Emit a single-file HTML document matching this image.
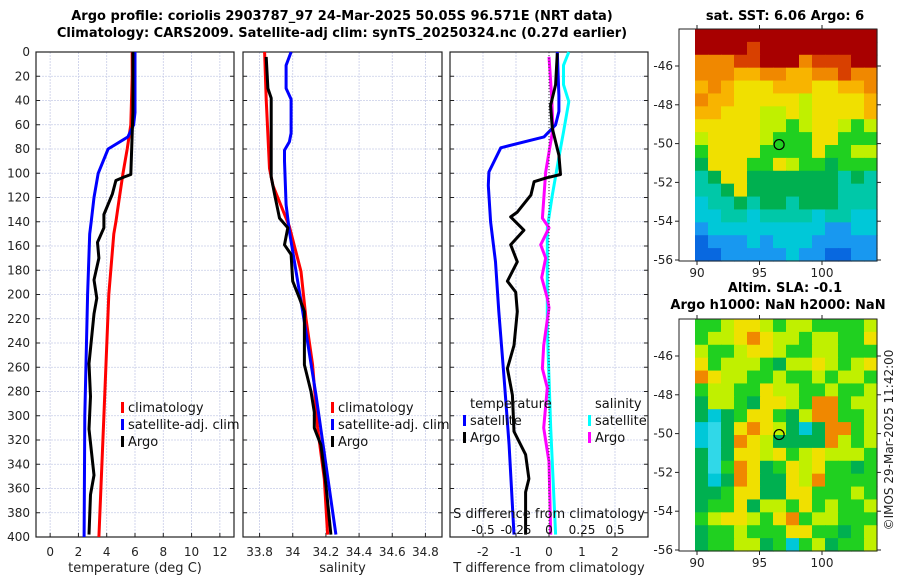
<!DOCTYPE html>
<html><head><meta charset="utf-8"><style>
html,body{margin:0;padding:0;background:#fff;}
svg{display:block;font-family:"DejaVu Sans","Liberation Sans",sans-serif;}
</style></head><body>
<svg id="fig" width="900" height="580" viewBox="0 0 900 580" xmlns="http://www.w3.org/2000/svg">
<text x="342" y="20" font-size="13" font-weight="bold" text-anchor="middle">Argo profile: coriolis 2903787_97 24-Mar-2025 50.05S 96.571E (NRT data)</text>
<text x="342" y="37" font-size="13" font-weight="bold" text-anchor="middle">Climatology: CARS2009. Satellite-adj clim: synTS_20250324.nc (0.27d earlier)</text>
<text x="785" y="20" font-size="13" font-weight="bold" text-anchor="middle">sat. SST: 6.06 Argo: 6</text>
<text x="785" y="292" font-size="13" font-weight="bold" text-anchor="middle">Altim. SLA: -0.1</text>
<text x="778" y="309" font-size="13" font-weight="bold" text-anchor="middle">Argo h1000: NaN h2000: NaN</text>
<text transform="translate(893,440) rotate(-90)" font-size="12" text-anchor="middle" fill="#222">©IMOS 29-Mar-2025 11:42:00</text>
</svg>
<script>
// ---- data ----
const depthTicks = [0,20,40,60,80,100,120,140,160,180,200,220,240,260,280,300,320,340,360,380,400];
const tempTicks = [0,2,4,6,8,10,12];
const salTicks = [33.8,34,34.2,34.4,34.6,34.8];
const salTickLabels = ["33.8","34","34.2","34.4","34.6","34.8"];
const tdiffTicks = [-2,-1,0,1,2];
const sdiffTicks = [-0.5,-0.25,0,0.25,0.5];
const sdiffTickLabels = ["-0.5","-0.25","0","0.25","0.5"];

const tClimDepth = [0,20,60,80,100,120,140,150,200,300,400];
const tClimVal   = [5.8,5.8,5.7,5.45,5.15,4.9,4.65,4.5,4.15,3.8,3.45];
const tSatDepth = [0,50,60,70,80,100,120,140,150,200,300,400];
const tSatVal   = [6.0,6.0,5.9,5.5,4.1,3.4,3.1,2.9,2.8,2.65,2.45,2.4];
const tArgoDepth = [0,50,101,103,106,117,134,145,157,170,188,203,216,257,284,311,349,365,398];
const tArgoVal   = [5.85,5.85,5.7,5.25,4.65,4.4,3.8,3.8,3.35,3.45,3.1,3.3,3.1,2.75,2.85,2.75,3.1,2.85,2.75];

const sClimDepth = [0,39,96,110,144,181,220,258,310,352,398];
const sClimVal   = [33.83,33.84,33.86,33.88,33.98,34.05,34.08,34.12,34.15,34.19,34.21];
const sSatDepth = [0,11,30,39,67,74,81,90,126,148,214,283,398];
const sSatVal   = [33.99,33.96,33.96,33.99,33.99,33.98,33.95,33.95,33.96,33.98,34.06,34.14,34.26];
const sArgoDepth = [4,30,38,63,96,103,117,137,145,159,167,189,203,214,258,280,297,310,324,357,398];
const sArgoVal   = [33.84,33.85,33.87,33.87,33.87,33.87,33.89,33.92,33.97,33.95,33.99,34.0,34.04,34.07,34.07,34.11,34.13,34.13,34.17,34.2,34.23];

const dTSatDepth = [0,36,49,60,70,79,99,110,140,173,214,269,324,398];
const dTSatVal   = [0.25,0.3,0.3,0.2,-0.15,-1.46,-1.82,-1.84,-1.77,-1.62,-1.52,-1.36,-1.21,-1.06];
const dTArgoDepth = [1,27,44,63,85,101,104,107,118,132,136,147,159,173,189,198,214,242,261,283,313,332,352,363,398];
const dTArgoVal   = [0.25,0.2,0.05,0.1,0.3,0.35,-0.1,-0.45,-0.55,-0.96,-1.16,-0.76,-1.16,-0.96,-1.26,-1.01,-0.96,-1.06,-1.26,-1.11,-1.06,-0.71,-0.61,-0.71,-0.71];
const dSSatDepth = [0,11,27,41,66,79,118,145,186,228,269,310,398];
const dSSatVal   = [0.15,0.11,0.11,0.15,0.11,0.088,0.025,-0.013,-0.013,-0.013,0,0.013,0.05];
const dSArgoDepth = [4,36,63,99,137,145,159,170,186,203,211,242,261,277,310,338,398];
const dSArgoVal   = [0,0.02,0.03,-0.025,-0.05,0,-0.063,-0.025,-0.055,-0.013,0,-0.04,-0.05,-0.013,-0.04,0,0.013];

const lonTicks = [90,95,100];
const latTicks = [-46,-48,-50,-52,-54,-56];
const argoLon = 96.57, argoLat = -50.05;
const sstRows = [
"RRRRRRRRRRRRRR","RRRRrRRRRRRRRR","ooorrRRRorrrRR","oooaaooaaooroo","aoayyyaaayyaao",
"oaayyyyylyyyya","aayyyllylyyyya","yyyyyllglyylgl","lyyyylgggyyggg","gyyyyggggyggll",
"GyyyggylggGggg","tGyyGGGGGGGtGt","ttGyGGGGGGGttt","cttGtGGtGGGttt","ccttcttttcttcc",
"bcccccccccbbcc","Bbbbcbcccbbbbb","BBbbbbbcbbBBbb"];
const slaRows = [
"gglyylgllggggl","gllyoyllgllggy","lgglyylggllggg","yglllgGllylgly","oyllgglgglgllg",
"gllggyllgglggl","GllgGyylgoogll","GcGgyygGlooggl","cCGyoylGcGoogl","cCGoylGGGGolgl",
"GCGyylyglylllg","GCgoyGgylyggGg","GcGoyGGylogggg","GGgyyGGyyggglg","GggyGllgyglggl",
"glyylgyogllggg","GgglgggyyggGgl","GggllGgcglGggl"];
const palette = {R:"#a80000",r:"#d84000",o:"#f08800",a:"#f8b400",y:"#f0e000",l:"#c0f000",g:"#20d020",G:"#00b050",t:"#00c8a8",c:"#00c8d8",C:"#30d8e8",b:"#1898f0",B:"#0868e0"};

// ---- drawing ----
const svg = document.getElementById('fig');
const NS = "http://www.w3.org/2000/svg";
function mk(tag, attrs, parent){const e=document.createElementNS(NS,tag);for(const k in attrs)e.setAttribute(k,attrs[k]);(parent||svg).appendChild(e);return e;}
const TOP=52, BOT=537;
function yD(d){return TOP + d*(BOT-TOP)/400;}

function panel(name,x0,x1,vmin,vmax,ticks,labels,xlabel,showY){
  const sx = v => x0 + (v-vmin)*(x1-x0)/(vmax-vmin);
  const g = mk('g',{});
  
  
  depthTicks.forEach(d=>{
    const l=mk('line',{x1:x0,x2:x1,y1:yD(d),y2:yD(d),stroke:"#c8cde8","stroke-width":0.8,"stroke-dasharray":"2,1"},g);
    
    
    mk('line',{x1:x0,x2:x0+4,y1:yD(d),y2:yD(d),stroke:"#222"},g);
    mk('line',{x1:x1,x2:x1-4,y1:yD(d),y2:yD(d),stroke:"#222"},g);
    if(showY){const t=mk('text',{x:x0-6,y:yD(d)+4,"font-size":12,"text-anchor":"end",fill:"#222"},g);t.textContent=d;
      
      }
  });
  ticks.forEach((v,i)=>{
    const l=mk('line',{x1:sx(v),x2:sx(v),y1:TOP,y2:BOT,stroke:"#c8cde8","stroke-width":0.8,"stroke-dasharray":"2,1"},g);
    
    
    mk('line',{x1:sx(v),x2:sx(v),y1:BOT,y2:BOT-4,stroke:"#222"},g);
    const t=mk('text',{x:sx(v),y:556,"font-size":12,"text-anchor":"middle",fill:"#222"},g);t.textContent=labels?labels[i]:v;
    
    
  });
  const b=mk('rect',{x:x0,y:TOP,width:x1-x0,height:BOT-TOP,fill:"none",stroke:"#222","stroke-width":1.2},g);
  
  
  const xl=mk('text',{x:(x0+x1)/2,y:572,"font-size":13,"text-anchor":"middle",fill:"#222"},g);xl.textContent=xlabel;
  
  
  return {sx,g};
}
function series(p,depths,vals,color,name,w){
  const pts=depths.map((d,i)=>p.sx(vals[i]).toFixed(1)+","+yD(d).toFixed(1)).join(" ");
  const e=mk('polyline',{points:pts,fill:"none",stroke:color,"stroke-width":w||3,"stroke-linejoin":"round"},p.g);
  
  
}
function legend(x,y,color,label,name){
  const r=mk('rect',{x:x,y:y-10,width:3,height:11,fill:color});
  
  
  const t=mk('text',{x:x+7,y:y,"font-size":13,fill:"#111"});t.textContent=label;
  
  
}

const p1=panel('temperature',36,234,-1,13,tempTicks,null,'temperature (deg C)',true);
series(p1,tClimDepth,tClimVal,'#ff0000','temp-climatology-line');
series(p1,tSatDepth,tSatVal,'#0000ff','temp-satellite-line');
series(p1,tArgoDepth,tArgoVal,'#000000','temp-argo-line');
legend(121,412,'#ff0000','climatology','temp-legend-climatology');
legend(121,429,'#0000ff','satellite-adj. clim','temp-legend-satellite');
legend(121,446,'#000000','Argo','temp-legend-argo');

const p2=panel('salinity',243,442,33.7,34.9,salTicks,salTickLabels,'salinity',false);
series(p2,sClimDepth,sClimVal,'#ff0000','sal-climatology-line');
series(p2,sSatDepth,sSatVal,'#0000ff','sal-satellite-line');
series(p2,sArgoDepth,sArgoVal,'#000000','sal-argo-line');
legend(331,412,'#ff0000','climatology','sal-legend-climatology');
legend(331,429,'#0000ff','satellite-adj. clim','sal-legend-satellite');
legend(331,446,'#000000','Argo','sal-legend-argo');

const p3=panel('difference',450,648,-3,3,tdiffTicks,null,'T difference from climatology',false);
const zl=mk('line',{x1:p3.sx(0),x2:p3.sx(0),y1:TOP,y2:BOT,stroke:"#333","stroke-width":1,"stroke-dasharray":"1,2"});


const ps={sx:v=>p3.sx(v*4),g:p3.g};
series(ps,dSSatDepth,dSSatVal,'#00ffff','sdiff-satellite-line');
series(ps,dSArgoDepth,dSArgoVal,'#ff00ff','sdiff-argo-line');
series(p3,dTSatDepth,dTSatVal,'#0000ff','tdiff-satellite-line');
series(p3,dTArgoDepth,dTArgoVal,'#000000','tdiff-argo-line');
let tt=mk('text',{x:470,y:408,"font-size":13,fill:"#111"});tt.textContent='temperature';


tt=mk('text',{x:595,y:408,"font-size":13,fill:"#111"});tt.textContent='salinity';


legend(463,425,'#0000ff','satellite','tdiff-legend-satellite');
legend(463,442,'#000000','Argo','tdiff-legend-argo');
legend(588,425,'#00ffff','satellite','sdiff-legend-satellite');
legend(588,442,'#ff00ff','Argo','sdiff-legend-argo');
tt=mk('text',{x:549,y:518,"font-size":13,"text-anchor":"middle",fill:"#111"});tt.textContent='S difference from climatology';


sdiffTicks.forEach((v,i)=>{
  const t=mk('text',{x:ps.sx(v),y:534,"font-size":12,"text-anchor":"middle",fill:"#111"});t.textContent=sdiffTickLabels[i];
  
  
});

// ---- maps ----
function map(name,yTop,rows){
  const X0=679,X1=877,IX0=695,H=232;
  const lonX=lon=>697+(lon-90)*12.5;
  const latY=lat=>yTop+37+(-46-lat)*19.4;
  const g=mk('g',{});
  
  
  const nr=rows.length,nc=rows[0].length,cw=(X1-IX0)/nc,ch=H/nr;
  rows.forEach((row,r)=>{for(let c=0;c<nc;c++){
    mk('rect',{x:(IX0+c*cw).toFixed(2),y:(yTop+r*ch).toFixed(2),width:(cw+0.6).toFixed(2),height:(ch+0.6).toFixed(2),fill:palette[row[c]]},g);
  }});
  mk('rect',{x:X0,y:yTop,width:X1-X0,height:H,fill:"none",stroke:"#222","stroke-width":1},g);
  lonTicks.forEach(v=>{
    mk('line',{x1:lonX(v),x2:lonX(v),y1:yTop+H,y2:yTop+H+4,stroke:"#222"},g);
    mk('line',{x1:lonX(v),x2:lonX(v),y1:yTop,y2:yTop-4,stroke:"#222"},g);
    const t=mk('text',{x:lonX(v),y:yTop+H+16,"font-size":12,"text-anchor":"middle",fill:"#222"},g);t.textContent=v;
    
    
  });
  latTicks.forEach(v=>{
    mk('line',{x1:X1,x2:X1+4,y1:latY(v),y2:latY(v),stroke:"#222"},g);
    mk('line',{x1:X0,x2:X0-4,y1:latY(v),y2:latY(v),stroke:"#222"},g);
    const t=mk('text',{x:X0-6,y:latY(v)+4,"font-size":12,"text-anchor":"end",fill:"#222"},g);t.textContent=v;
    
    
  });
  const c=mk('circle',{cx:lonX(argoLon),cy:latY(argoLat),r:5,fill:"none",stroke:"#000","stroke-width":1.2},g);
  
  
}
map('sst-map',29,sstRows);
map('sla-map',319,slaRows);
</script>
</body></html>
